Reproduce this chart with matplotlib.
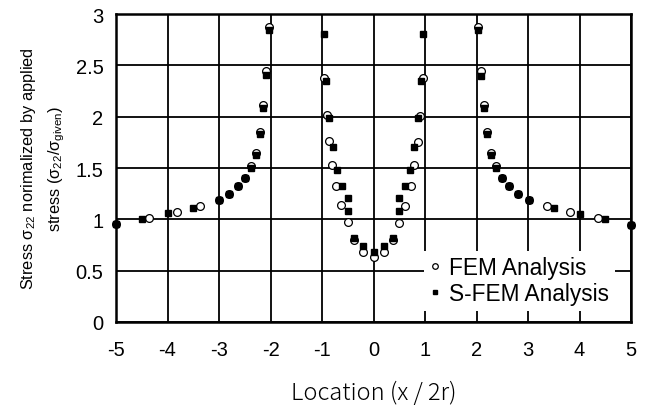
import matplotlib
matplotlib.use("Agg")
import matplotlib.pyplot as plt
from matplotlib.ticker import MultipleLocator

# FEM results (open circles)
fem_x = [-5.0, -4.35, -3.82, -3.36, -3.0, -2.80, -2.64, -2.50, -2.37, -2.29, -2.20, -2.14, -2.09, -2.03,
         -0.96, -0.91, -0.86, -0.80, -0.72, -0.63, -0.50, -0.37, -0.20, 0.0, 0.20, 0.37, 0.50, 0.62,
         0.72, 0.79, 0.87, 0.91, 0.97,
         2.02, 2.09, 2.14, 2.21, 2.29, 2.38, 2.50, 2.64, 2.80, 3.01, 3.36, 3.82, 4.35, 5.0]
fem_y = [0.95, 1.01, 1.07, 1.13, 1.19, 1.25, 1.32, 1.40, 1.52, 1.65, 1.85, 2.11, 2.44, 2.87,
         2.38, 2.02, 1.76, 1.53, 1.32, 1.14, 0.97, 0.80, 0.68, 0.63, 0.68, 0.80, 0.96, 1.13,
         1.32, 1.53, 1.75, 2.01, 2.38,
         2.87, 2.44, 2.11, 1.85, 1.65, 1.52, 1.40, 1.32, 1.25, 1.19, 1.13, 1.07, 1.01, 0.94]

# S-FEM results (filled squares)
sfem_x = [-5.0, -4.50, -4.0, -3.50, -3.0, -2.80, -2.64, -2.50, -2.37, -2.29, -2.20, -2.14, -2.09, -2.03,
          -0.96, -0.92, -0.86, -0.79, -0.71, -0.61, -0.50, -0.50, -0.37, -0.20, 0.0, 0.20, 0.37, 0.50,
          0.50, 0.61, 0.71, 0.79, 0.87, 0.92, 0.96,
          2.02, 2.09, 2.14, 2.21, 2.29, 2.38, 2.50, 2.64, 2.80, 3.01, 3.50, 4.0, 4.50, 5.0]
sfem_y = [0.95, 1.00, 1.06, 1.11, 1.19, 1.25, 1.32, 1.40, 1.50, 1.63, 1.83, 2.08, 2.41, 2.84,
          2.81, 2.35, 1.99, 1.70, 1.48, 1.32, 1.21, 1.08, 0.82, 0.74, 0.685, 0.74, 0.82, 1.08,
          1.21, 1.32, 1.48, 1.70, 1.99, 2.35, 2.81,
          2.84, 2.40, 2.08, 1.83, 1.63, 1.50, 1.40, 1.32, 1.25, 1.19, 1.11, 1.05, 1.00, 0.94]

plt.rcParams['font.family'] = ['Liberation Sans', 'DejaVu Sans']
plt.rcParams['axes.unicode_minus'] = False

fig = plt.figure(figsize=(6.46, 4.10), dpi=100)
ax = fig.add_axes([0.1796, 0.2122, 0.7972, 0.7512])

ax.plot(fem_x, fem_y, linestyle='none', marker='o', markersize=5.6,
        markerfacecolor='white', markeredgecolor='black', markeredgewidth=0.9,
        label='FEM Analysis', zorder=3, clip_on=False)
ax.plot(sfem_x, sfem_y, linestyle='none', marker='s', markersize=4.8,
        markerfacecolor='black', markeredgecolor='black',
        label='S-FEM Analysis', zorder=4, clip_on=False)

ax.set_xlim(-5, 5)
ax.set_ylim(0, 3)
ax.xaxis.set_major_locator(MultipleLocator(1))
ax.yaxis.set_major_locator(MultipleLocator(0.5))
ax.grid(True, color='black', linewidth=1.3)
ax.set_axisbelow(True)
for s in ax.spines.values():
    s.set_linewidth(1.8)
ax.tick_params(length=0, labelsize=14.5)
ax.tick_params(axis='x', pad=13)
ax.tick_params(axis='y', pad=9)
ax.set_yticks([0, 0.5, 1, 1.5, 2, 2.5, 3])
ax.set_yticklabels(['0', '0.5', '1', '1.5', '2', '2.5', '3'])

ax.set_xlabel('Location (x / 2r)', fontsize=17, family=['Noto Sans CJK JP', 'DejaVu Sans'],
              fontweight='light', labelpad=15)
ax.set_ylabel('Stress $\\mathregular{\\sigma_{22}}$ norimalized by applied\n'
              'stress ($\\mathregular{\\sigma_{22}/\\sigma_{given}}$)', fontsize=11.8, labelpad=6,
              linespacing=1.6)

leg = ax.legend(loc='lower right', bbox_to_anchor=(0.99, 0.0), fontsize=16.3,
                frameon=True, framealpha=1, edgecolor='white', fancybox=False,
                handlelength=0.5, handletextpad=0.35, markerscale=0.72,
                borderpad=0.25, labelspacing=0.12)
leg.get_frame().set_linewidth(0)

fig.savefig('out.png', dpi=100)
